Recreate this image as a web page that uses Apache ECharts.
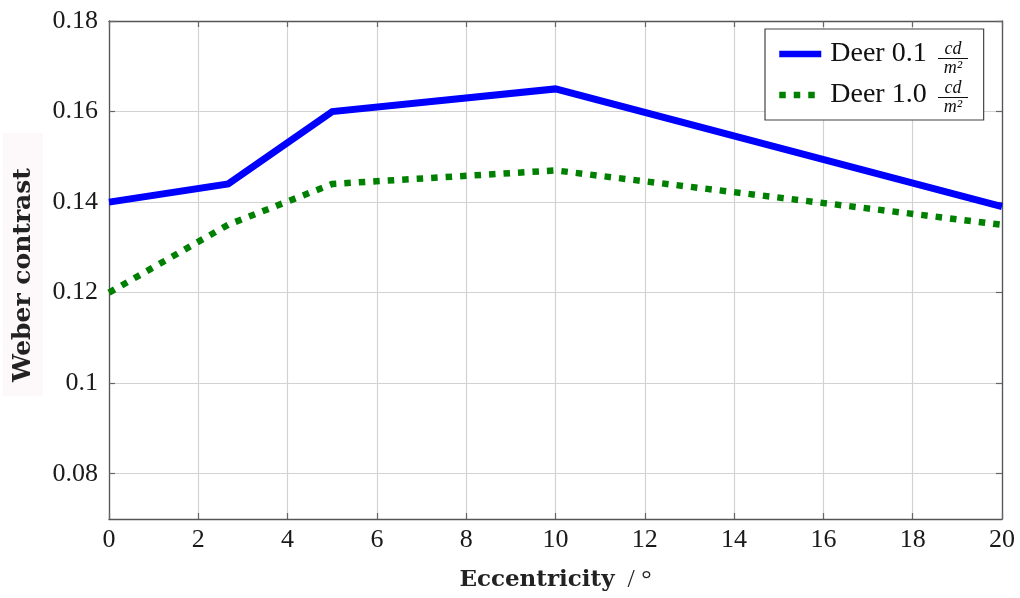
<!DOCTYPE html>
<html>
<head>
<meta charset="utf-8">
<script src="https://cdn.jsdelivr.net/npm/echarts@6/dist/echarts.min.js"></script>
<style>
  html, body { margin: 0; padding: 0; background: #ffffff; }
  #chart { width: 1020px; height: 598px; }
</style>
</head>
<body>
<div id="chart"></div>
<script>
// Eccentricity in degrees and measured Weber contrast for two luminance levels
const eccentricity = [0, 2.67, 5, 10, 20];
const contrastLow  = [0.140, 0.144, 0.160, 0.165, 0.139]; // 0.1 cd/m²
const contrastHigh = [0.120, 0.135, 0.144, 0.147, 0.135]; // 1.0 cd/m²
const seriesNames  = ['Deer 0.1', 'Deer 1.0'];
const yTickValues  = [0.08, 0.10, 0.12, 0.14, 0.16, 0.18];
const xRange = [0, 20];
const yRange = [0.07, 0.18];
const xStep = 2;

const pair = (xs, ys) => xs.map((x, i) => [x, ys[i]]);

const SERIF = '"Liberation Serif", "DejaVu Serif", serif';
const BOLD_SERIF = '"DejaVu Serif", "Liberation Serif", serif';
const FRAME = '#555555';
const GRID = '#d2d2d2';
const FRACTION_FONT = 'italic 18px "Liberation Serif", serif';

const chart = echarts.init(document.getElementById('chart'), null, { renderer: 'canvas' });

const tickStyle = { show: true, inside: true, length: 6, lineStyle: { color: '#666', width: 1.2 } };

// small "cd over m²" unit fraction placed after a legend label
function unitFraction(cx, cy) {
  return [
    { type: 'text', z: 100, style: { x: cx, y: cy - 9, text: 'cd', font: FRACTION_FONT, fill: '#111', align: 'center', verticalAlign: 'middle' } },
    { type: 'line', z: 100, shape: { x1: cx - 15, y1: cy + 0.5, x2: cx + 15, y2: cy + 0.5 }, style: { stroke: '#111', lineWidth: 1 } },
    { type: 'text', z: 100, style: { x: cx, y: cy + 10, text: 'm²', font: FRACTION_FONT, fill: '#111', align: 'center', verticalAlign: 'middle' } }
  ];
}

const option = {
  animation: false,
  backgroundColor: '#ffffff',
  grid: { left: 109, right: 18, top: 21, bottom: 79 },
  xAxis: [
    {
      type: 'value', position: 'bottom', min: xRange[0], max: xRange[1], interval: xStep,
      axisLine: { show: true, onZero: false, lineStyle: { color: FRAME, width: 1.3 } },
      axisTick: tickStyle,
      splitLine: { show: true, lineStyle: { color: GRID, width: 1.2 } },
      axisLabel: { margin: 8, fontFamily: SERIF, fontSize: 26, color: '#1a1a1a' },
      name: '{b|Eccentricity}{r|\u2002/ °}',
      nameLocation: 'middle', nameGap: 48,
      nameTextStyle: {
        rich: {
          b: { fontFamily: BOLD_SERIF, fontWeight: 'bold', fontSize: 23, color: '#222' },
          r: { fontFamily: SERIF, fontSize: 26, color: '#222' }
        }
      }
    },
    {
      type: 'value', position: 'top', min: xRange[0], max: xRange[1], interval: xStep,
      axisLine: { show: true, onZero: false, lineStyle: { color: FRAME, width: 1.3 } },
      axisTick: tickStyle, axisLabel: { show: false }, splitLine: { show: false }
    }
  ],
  yAxis: [
    {
      type: 'value', position: 'left', min: yRange[0], max: yRange[1],
      axisLine: { show: true, onZero: false, lineStyle: { color: FRAME, width: 1.3 } },
      axisTick: Object.assign({ customValues: yTickValues }, tickStyle),
      splitLine: { show: true, lineStyle: { color: GRID, width: 1.2 } },
      axisLabel: { customValues: yTickValues, margin: 11, fontFamily: SERIF, fontSize: 26, color: '#1a1a1a' },
      name: 'Weber contrast',
      nameLocation: 'middle', nameRotate: 90, nameGap: 73,
      nameTextStyle: { fontFamily: BOLD_SERIF, fontWeight: 'bold', fontSize: 25, color: '#222', padding: [0, 10, 0, 0] }
    },
    {
      type: 'value', position: 'right', min: yRange[0], max: yRange[1],
      axisLine: { show: true, onZero: false, lineStyle: { color: FRAME, width: 1.3 } },
      axisTick: Object.assign({ customValues: yTickValues }, tickStyle),
      axisLabel: { show: false }, splitLine: { show: false }
    }
  ],
  legend: {
    orient: 'vertical', left: 765, top: 29,
    padding: [10, 57, 10, 11], itemGap: 11, itemWidth: 42, itemHeight: 14,
    backgroundColor: '#ffffff', borderColor: '#444', borderWidth: 1.2, borderRadius: 0,
    lineStyle: { width: 6.5 },
    itemStyle: { opacity: 0 },
    textStyle: { fontFamily: SERIF, fontSize: 28, color: '#111', lineHeight: 30, padding: [0, 0, 0, 4] },
    data: seriesNames
  },
  graphic: [
    { type: 'rect', z: -10, shape: { x: 3, y: 133, width: 40, height: 263 }, style: { fill: '#fdf8f9' } }
  ].concat(unitFraction(953, 58), unitFraction(953, 97)),
  series: [
    {
      name: seriesNames[0], type: 'line', data: pair(eccentricity, contrastLow),
      symbol: 'none', clip: true,
      lineStyle: { color: '#0000ff', width: 7, cap: 'butt', join: 'miter' },
      itemStyle: { color: '#0000ff' }
    },
    {
      name: seriesNames[1], type: 'line', data: pair(eccentricity, contrastHigh),
      symbol: 'none', clip: true,
      lineStyle: { color: '#008000', width: 6.5, type: [6.5, 8], cap: 'butt', join: 'miter' },
      itemStyle: { color: '#008000' }
    }
  ]
};

chart.setOption(option);
</script>
</body>
</html>
